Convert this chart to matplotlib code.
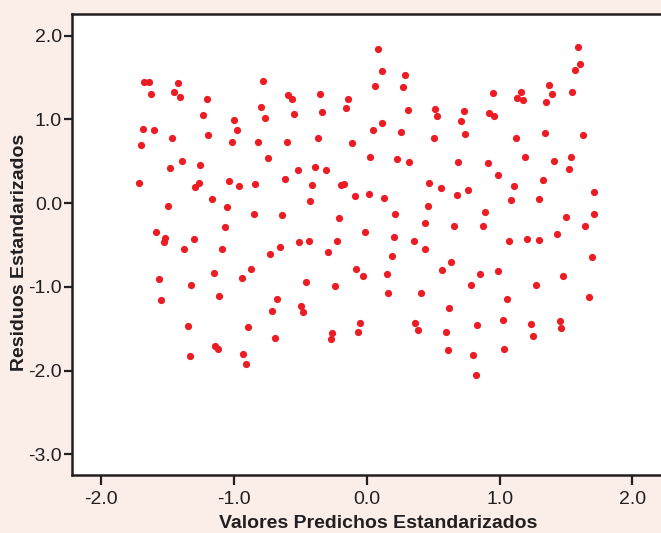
import matplotlib
matplotlib.use("Agg")
import matplotlib.pyplot as plt

plt.rcParams['font.family'] = ['Liberation Sans', 'DejaVu Sans']

# valores predichos estandarizados (x) y residuos estandarizados (y)
pred = [-1.714, -1.698, -1.683, -1.676, -1.638, -1.625, -1.606, -1.584, -1.568, -1.552,
        -1.530, -1.517, -1.495, -1.483, -1.467, -1.451, -1.425, -1.410, -1.394, -1.375,
        -1.346, -1.333, -1.321, -1.302, -1.292, -1.263, -1.254, -1.235, -1.206, -1.194,
        -1.165, -1.152, -1.143, -1.124, -1.114, -1.089, -1.067, -1.051, -1.038, -1.013,
        -0.997, -0.981, -0.959, -0.943, -0.930, -0.908, -0.892, -0.873, -0.851, -0.841,
        -0.816, -0.794, -0.778, -0.768, -0.746, -0.727, -0.714, -0.692, -0.679, -0.651,
        -0.635, -0.616, -0.600, -0.597, -0.565, -0.549, -0.521, -0.514, -0.498, -0.483,
        -0.457, -0.435, -0.425, -0.410, -0.390, -0.368, -0.356, -0.340, -0.305, -0.292,
        -0.273, -0.263, -0.241, -0.225, -0.206, -0.194, -0.168, -0.156, -0.140, -0.114,
        -0.092, -0.079, -0.070, -0.048, -0.025, -0.013, 0.016, 0.025, 0.048, 0.063,
        0.083, 0.111, 0.117, 0.133, 0.152, 0.162, 0.190, 0.203, 0.216, 0.229,
        0.254, 0.276, 0.289, 0.308, 0.321, 0.352, 0.365, 0.384, 0.406, 0.435,
        0.438, 0.457, 0.470, 0.505, 0.511, 0.527, 0.556, 0.565, 0.594, 0.613,
        0.619, 0.635, 0.660, 0.679, 0.686, 0.708, 0.730, 0.743, 0.765, 0.787,
        0.800, 0.822, 0.832, 0.851, 0.873, 0.889, 0.911, 0.921, 0.956, 0.952,
        0.984, 0.990, 1.022, 1.035, 1.057, 1.070, 1.089, 1.105, 1.124, 1.130,
        1.162, 1.175, 1.190, 1.203, 1.238, 1.254, 1.273, 1.295, 1.295, 1.330,
        1.340, 1.346, 1.368, 1.397, 1.410, 1.432, 1.454, 1.463, 1.476, 1.498,
        1.524, 1.537, 1.546, 1.568, 1.606, 1.587, 1.625, 1.641, 1.673, 1.695,
        1.708, 1.714]
resid = [0.24, 0.70, 0.88, 1.445, 1.45, 1.30, 0.87, -0.35, -0.905, -1.157,
         -0.463, -0.414, -0.037, 0.418, 0.779, 1.331, 1.437, 1.262, 0.499, -0.544,
         -1.465, -1.822, -0.978, -0.426, 0.191, 0.239, 0.455, 1.047, 1.238, 0.808,
         0.045, -0.832, -1.705, -1.741, -1.112, -0.544, -0.288, -0.045, 0.268, 0.735,
         0.99, 0.877, 0.207, -0.897, -1.798, -1.924, -1.481, -0.791, -0.126, 0.231,
         0.731, 1.144, 1.461, 1.011, 0.54, -0.609, -1.291, -1.615, -1.14, -0.528,
         -0.146, 0.288, 0.731, 1.291, 1.242, 1.063, 0.398, -0.463, -1.23, -1.299,
         -0.942, -0.446, 0.024, 0.215, 0.434, 0.775, 1.299, 1.084, 0.394, -0.58,
         -1.627, -1.554, -0.986, -0.455, -0.179, 0.215, 0.231, 1.136, 1.238, 0.714,
         0.089, -0.791, -1.542, -1.425, -0.864, -0.345, 0.11, 0.552, 0.877, 1.404,
         1.838, 1.579, 0.954, 0.065, -0.848, -1.067, -0.625, -0.406, -0.126, 0.532,
         0.848, 1.388, 1.534, 1.108, 0.495, -0.446, -1.433, -1.518, -1.075, -0.235,
         -0.552, -0.037, 0.239, 0.783, 1.12, 1.043, 0.183, -0.795, -1.542, -1.753,
         -1.254, -0.702, -0.272, 0.097, 0.487, 0.978, 1.096, 0.828, 0.162, -0.978,
         -1.814, -2.05, -1.457, -0.848, -0.272, -0.11, 0.483, 1.075, 1.043, 1.319,
         0.341, -0.808, -1.392, -1.737, -1.14, -0.446, 0.032, 0.207, 0.775, 1.254,
         1.327, 1.23, 0.556, -0.426, -1.437, -1.583, -0.978, -0.434, 0.053, 0.28,
         0.84, 1.209, 1.416, 1.303, 0.503, -0.373, -1.412, -1.494, -0.869, -0.162,
         0.406, 0.548, 1.323, 1.591, 1.656, 1.867, 0.812, -0.272, -1.12, -0.645,
         -0.13, 0.13]

ticks_x = [-2.0, -1.0, 0.0, 1.0, 2.0]
ticks_y = [-3.0, -2.0, -1.0, 0.0, 1.0, 2.0]

bg = '#fbeee8'
ink = '#231f20'
W, H = 661, 533

fig = plt.figure(figsize=(W / 100, H / 100), dpi=100, facecolor=bg)
ax = fig.add_axes([71.7 / W, (H - 474.8) / H, 1.002 - 71.7 / W, (474.8 - 14.3) / H])
ax.set_facecolor('white')

ax.scatter(pred, resid, s=27, color='#ec1c24', linewidths=0, zorder=3)

ax.set_xlim(-2.222, 2.225)
ax.set_ylim(-3.243, 2.255)
ax.set_xticks(ticks_x)
ax.set_yticks(ticks_y)
ax.set_xticklabels(['%.1f' % t for t in ticks_x])
ax.set_yticklabels(['%.1f' % t for t in ticks_y])

for s in ax.spines.values():
    s.set_linewidth(1.8)
    s.set_color(ink)

ax.tick_params(axis='x', direction='out', length=7.5, width=1.6, color=ink,
               labelsize=14, labelcolor=ink, pad=4)
ax.tick_params(axis='y', direction='out', length=6, width=1.6, color=ink,
               labelsize=14, labelcolor=ink, pad=1)

fig.text(378 / W, 1 - 524 / H, 'Valores Predichos Estandarizados',
         ha='center', va='center', fontsize=14, fontweight='bold', color=ink)
fig.text(19.7 / W, 1 - 252 / H, 'Residuos Estandarizados', rotation=90,
         ha='center', va='center', fontsize=14, fontweight='bold', color=ink)

fig.savefig('out.png', dpi=100, facecolor=bg)
